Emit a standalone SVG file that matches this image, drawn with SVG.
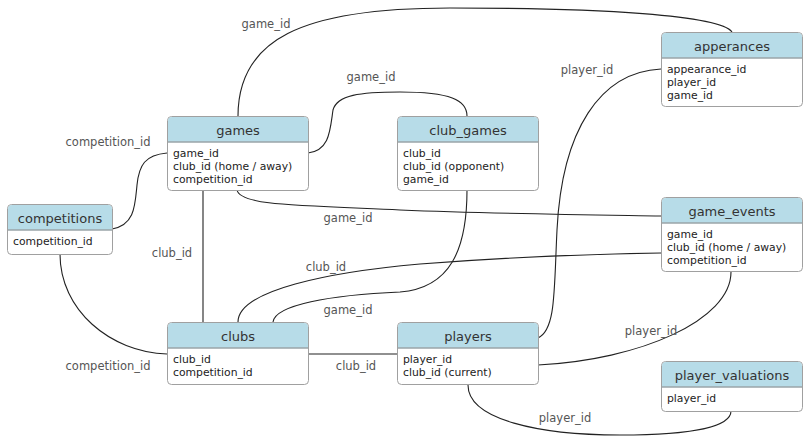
<svg xmlns="http://www.w3.org/2000/svg" width="810" height="447" viewBox="0 0 810 447">
<style>
.box{fill:#fff;stroke:#a0a0a0;stroke-width:1}
.hdr{fill:#b7dce8}
.sep{stroke:#9aa4a8;stroke-width:1.5}
.title{font-family:"DejaVu Sans",Verdana,sans-serif;font-size:13px;fill:#333;text-anchor:middle}
.f{font-family:"DejaVu Sans",Verdana,sans-serif;font-size:10.8px;fill:#222}
.lbl{font-family:"DejaVu Sans",Verdana,sans-serif;font-size:11.5px;fill:#555;text-anchor:middle}
.edge{fill:none;stroke:#222;stroke-width:1.1}
</style>
<rect width="810" height="447" fill="#fff"/>
<g id="connectors">
<path class="edge" d="M238,116 C238,40 300,8 450,8 C600,8 720,15 732,32"/>
<path class="edge" d="M308,153 C330,150 330,130 333,110 C337,95 360,92 400,92 C450,92 467,100 467,116"/>
<path class="edge" d="M112,229 C135,225 135,205 137,185 C139,165 145,155 167,153"/>
<path class="edge" d="M203,190 L203,322"/>
<path class="edge" d="M237,190 C240,205 290,205 400,210 C500,214 600,215 661,216"/>
<path class="edge" d="M238,322 C238,290 330,272 420,264 C520,256 600,254 661,253"/>
<path class="edge" d="M273,322 C275,305 330,295 400,292 C450,288 467,250 467,190"/>
<path class="edge" d="M60,254 C60,310 110,352 167,354"/>
<path class="edge" d="M308,354 L397,354"/>
<path class="edge" d="M538,338 C556,330 554,290 557,230 C562,130 600,72 661,69"/>
<path class="edge" d="M538,365 C640,360 731,320 731,272"/>
<path class="edge" d="M468,385 C468,420 540,435 620,435 C700,435 731,425 731,411"/>
<text class="lbl" x="266" y="28">game_id</text>
<text class="lbl" x="371" y="81">game_id</text>
<text class="lbl" x="587" y="74">player_id</text>
<text class="lbl" x="108" y="146">competition_id</text>
<text class="lbl" x="172" y="257">club_id</text>
<text class="lbl" x="348" y="222">game_id</text>
<text class="lbl" x="326" y="271">club_id</text>
<text class="lbl" x="348" y="314">game_id</text>
<text class="lbl" x="108" y="370">competition_id</text>
<text class="lbl" x="356" y="370">club_id</text>
<text class="lbl" x="651" y="335">player_id</text>
<text class="lbl" x="565" y="422">player_id</text>
</g>
<g id="games">
<rect class="box" x="167.5" y="116.5" width="141" height="74" rx="4"/>
<path class="hdr" d="M168,142 V121 a4,4 0 0 1 4,-4 H304 a4,4 0 0 1 4,4 V142 Z"/>
<line class="sep" x1="168" y1="142" x2="308" y2="142"/>
<text class="title" x="238" y="135">games</text>
<text class="f" x="173" y="157">game_id</text>
<text class="f" x="173" y="170">club_id (home / away)</text>
<text class="f" x="173" y="183">competition_id</text>
</g>
<g id="club_games">
<rect class="box" x="397.5" y="116.5" width="141" height="74" rx="4"/>
<path class="hdr" d="M398,142 V121 a4,4 0 0 1 4,-4 H534 a4,4 0 0 1 4,4 V142 Z"/>
<line class="sep" x1="398" y1="142" x2="538" y2="142"/>
<text class="title" x="468" y="135">club_games</text>
<text class="f" x="403" y="157">club_id</text>
<text class="f" x="403" y="170">club_id (opponent)</text>
<text class="f" x="403" y="183">game_id</text>
</g>
<g id="apperances">
<rect class="box" x="661.5" y="32.5" width="141" height="74" rx="4"/>
<path class="hdr" d="M662,58 V37 a4,4 0 0 1 4,-4 H798 a4,4 0 0 1 4,4 V58 Z"/>
<line class="sep" x1="662" y1="58" x2="802" y2="58"/>
<text class="title" x="732" y="51">apperances</text>
<text class="f" x="667" y="73">appearance_id</text>
<text class="f" x="667" y="86">player_id</text>
<text class="f" x="667" y="99">game_id</text>
</g>
<g id="game_events">
<rect class="box" x="661.5" y="197.5" width="141" height="74" rx="4"/>
<path class="hdr" d="M662,223 V202 a4,4 0 0 1 4,-4 H798 a4,4 0 0 1 4,4 V223 Z"/>
<line class="sep" x1="662" y1="223" x2="802" y2="223"/>
<text class="title" x="732" y="216">game_events</text>
<text class="f" x="667" y="238">game_id</text>
<text class="f" x="667" y="251">club_id (home / away)</text>
<text class="f" x="667" y="264">competition_id</text>
</g>
<g id="competitions">
<rect class="box" x="7.5" y="204.5" width="105" height="50" rx="4"/>
<path class="hdr" d="M8,230 V209 a4,4 0 0 1 4,-4 H108 a4,4 0 0 1 4,4 V230 Z"/>
<line class="sep" x1="8" y1="230" x2="112" y2="230"/>
<text class="title" x="60" y="223">competitions</text>
<text class="f" x="13" y="245">competition_id</text>
</g>
<g id="clubs">
<rect class="box" x="167.5" y="322.5" width="141" height="62" rx="4"/>
<path class="hdr" d="M168,348 V327 a4,4 0 0 1 4,-4 H304 a4,4 0 0 1 4,4 V348 Z"/>
<line class="sep" x1="168" y1="348" x2="308" y2="348"/>
<text class="title" x="238" y="341">clubs</text>
<text class="f" x="173" y="363">club_id</text>
<text class="f" x="173" y="376">competition_id</text>
</g>
<g id="players">
<rect class="box" x="397.5" y="322.5" width="141" height="62" rx="4"/>
<path class="hdr" d="M398,348 V327 a4,4 0 0 1 4,-4 H534 a4,4 0 0 1 4,4 V348 Z"/>
<line class="sep" x1="398" y1="348" x2="538" y2="348"/>
<text class="title" x="468" y="341">players</text>
<text class="f" x="403" y="363">player_id</text>
<text class="f" x="403" y="376">club_id (current)</text>
</g>
<g id="player_valuations">
<rect class="box" x="661.5" y="361.5" width="141" height="50" rx="4"/>
<path class="hdr" d="M662,387 V366 a4,4 0 0 1 4,-4 H798 a4,4 0 0 1 4,4 V387 Z"/>
<line class="sep" x1="662" y1="387" x2="802" y2="387"/>
<text class="title" x="732" y="380">player_valuations</text>
<text class="f" x="667" y="402">player_id</text>
</g>
</svg>
